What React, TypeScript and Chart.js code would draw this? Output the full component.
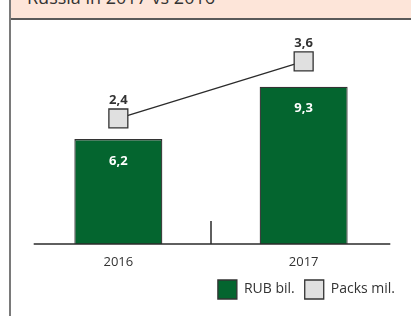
import React, { useEffect, useRef } from "react";
import { Chart, registerables } from "chart.js";

Chart.register(...registerables);

const title = "Russia in 2017 vs 2016";
const categories = ["2016", "2017"];
const seriesNames = ["RUB bil.", "Packs mil."];
const rubBil = [6.2, 9.3];
const packsMil = [2.4, 3.6];

const FONT = "'Open Sans', 'Noto Sans', sans-serif";
const GREEN = "#04652f";
const GRAY = "#e0e0e0";
const DARK = "#2b2b2b";

const fmt = (v: number) => v.toFixed(1).replace(".", ",");

const valueLabels = {
  id: "valueLabels",
  afterDatasetsDraw(chart: any) {
    const ctx = chart.ctx;
    chart.data.datasets.forEach((ds: any, i: number) => {
      const meta = chart.getDatasetMeta(i);
      meta.data.forEach((el: any, j: number) => {
        const v = ds.data[j] as number;
        ctx.save();
        ctx.font = `bold 13px ${FONT}`;
        ctx.textAlign = "center";
        ctx.textBaseline = "middle";
        if (meta.type === "bar") {
          ctx.fillStyle = "#ffffff";
          ctx.fillText(fmt(v), el.x, el.y + 22);
        } else {
          ctx.fillStyle = "#333333";
          ctx.fillText(fmt(v), el.x, el.y - 18);
        }
        ctx.restore();
      });
    });
  },
};

const axisDecor = {
  id: "axisDecor",
  afterDatasetsDraw(chart: any) {
    const { ctx, chartArea } = chart;
    const xs = chart.scales.x;
    const y = chartArea.bottom;
    ctx.save();
    ctx.strokeStyle = DARK;
    ctx.lineWidth = 1.5;
    ctx.beginPath();
    ctx.moveTo(chartArea.left + 8, y);
    ctx.lineTo(chartArea.right - 6, y);
    const sep = (xs.getPixelForValue(0) + xs.getPixelForValue(1)) / 2;
    ctx.moveTo(sep, y - 23);
    ctx.lineTo(sep, y);
    ctx.stroke();
    ctx.restore();
  },
};

export default function App() {
  const ref = useRef<HTMLCanvasElement>(null);

  useEffect(() => {
    const chart = new Chart(ref.current as HTMLCanvasElement, {
      type: "bar",
      data: {
        labels: categories,
        datasets: [
          {
            type: "line",
            label: seriesNames[1],
            data: packsMil,
            yAxisID: "y2",
            borderColor: DARK,
            borderWidth: 1.3,
            backgroundColor: GRAY,
            pointStyle: "rect",
            pointRadius: 13.4,
            pointBackgroundColor: GRAY,
            pointBorderColor: "#333",
            pointBorderWidth: 1.3,
            tension: 0,
            order: 0,
          } as any,
          {
            type: "bar",
            label: seriesNames[0],
            data: rubBil,
            yAxisID: "y",
            backgroundColor: GREEN,
            borderColor: "#333",
            borderWidth: 1.3,
            barPercentage: 0.475,
            categoryPercentage: 1,
            order: 1,
          } as any,
        ],
      },
      options: {
        animation: false,
        responsive: true,
        maintainAspectRatio: false,
        layout: { padding: { top: 21, right: 6, bottom: 7, left: 0 } },
        scales: {
          x: {
            grid: { display: false, drawTicks: false },
            border: { display: false },
            ticks: { color: "#333", font: { family: FONT, size: 13 }, padding: 10 },
            afterFit: (s: any) => {
              s.height = 26;
            },
          },
          y: {
            position: "left",
            min: 0,
            max: 12,
            grid: { display: false },
            border: { display: false },
            ticks: { display: false },
            afterFit: (s: any) => {
              s.width = 13;
            },
          },
          y2: {
            position: "right",
            min: -0.24,
            max: 4.03,
            grid: { display: false },
            border: { display: false },
            ticks: { display: false },
            afterFit: (s: any) => {
              s.width = 4;
            },
          },
        },
        plugins: {
          tooltip: { enabled: false },
          legend: {
            position: "bottom",
            align: "end",
            reverse: true,
            labels: {
              boxWidth: 19,
              boxHeight: 19,
              padding: 10,
              color: "#333",
              font: { family: FONT, size: 14 },
              generateLabels: (c: any) =>
                c.data.datasets
                  .map((ds: any, i: number) => ({
                    text: ds.label,
                    fillStyle: ds.type === "bar" ? GREEN : GRAY,
                    strokeStyle: "#333",
                    lineWidth: 1.3,
                    hidden: false,
                    datasetIndex: i,
                    fontColor: "#333",
                  }))
                  .reverse()
                  .reverse(),
            },
          },
        },
      } as any,
      plugins: [axisDecor, valueLabels],
    });
    return () => chart.destroy();
  }, []);

  return (
    <div
      style={{
        position: "fixed",
        left: 0,
        top: 0,
        width: 411,
        height: 316,
        background: "#fff",
        overflow: "hidden",
        fontFamily: FONT,
      }}
    >
      <div
        style={{
          position: "absolute",
          left: 10,
          top: 0,
          width: 401,
          height: 18,
          background: "#fde5d9",
          borderBottom: "2px solid #5a5a5a",
          overflow: "hidden",
        }}
      >
        <div
          style={{
            position: "absolute",
            left: 17,
            top: -13,
            fontSize: 18,
            lineHeight: "20px",
            color: "#333",
            whiteSpace: "nowrap",
          }}
        >
          {title}
        </div>
      </div>
      <div
        style={{ position: "absolute", left: 9, top: 0, width: 2, height: 316, background: "#7a7a7a" }}
      />
      <div style={{ position: "absolute", left: 11, top: 20, width: 400, height: 296 }}>
        <canvas ref={ref} />
      </div>
    </div>
  );
}
